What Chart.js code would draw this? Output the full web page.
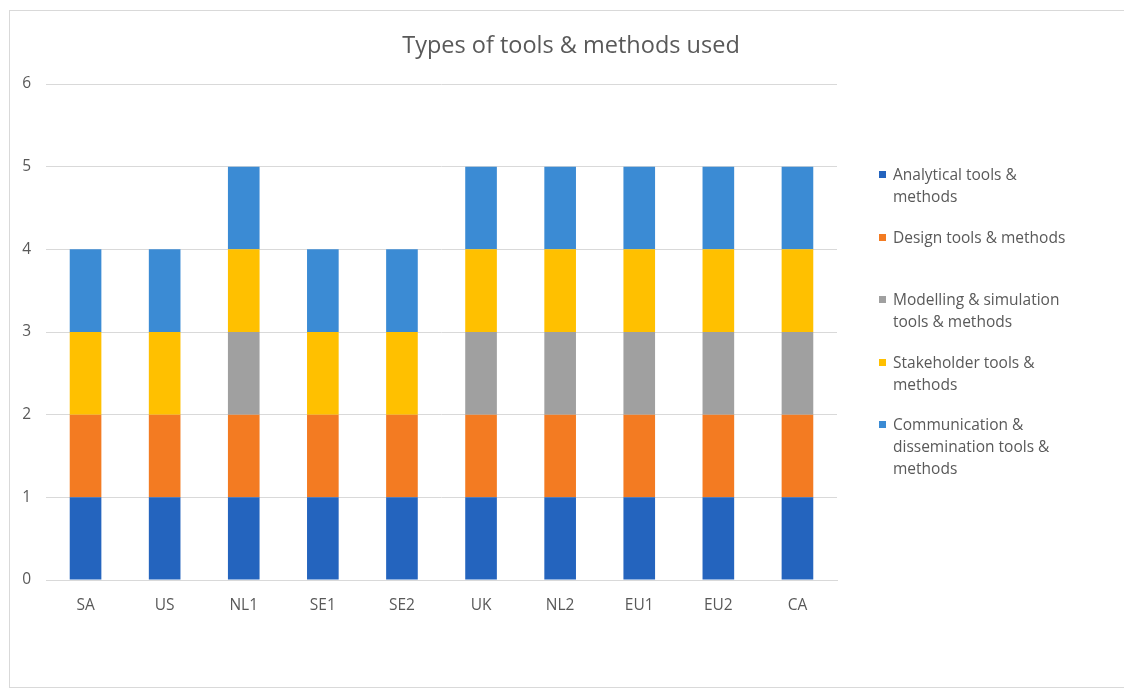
<!DOCTYPE html>
<html>
<head>
<meta charset="utf-8">
<script src="https://cdn.jsdelivr.net/npm/chart.js@4"></script>
<style>
  body { margin: 0; background: #fff; font-family: "Open Sans", sans-serif; }
  #wrap { position: relative; width: 1124px; height: 691px; overflow: hidden; }
  #frame { position: absolute; left: 9px; top: 10px; width: 1130px; height: 678px; border: 1px solid #d9d9d9; box-sizing: border-box; }
  #chart { position: absolute; left: 0; top: 0; }
  #title { position: absolute; left: 371px; width: 400px; top: 28px; text-align: center; font-size: 23.5px; line-height: 32px; color: #595959; }
  #legend { position: absolute; left: 879px; top: 0; width: 220px; }
  .item { position: absolute; left: 0; width: 196px; font-size: 15.5px; line-height: 22px; color: #595959; padding-left: 14px; box-sizing: border-box; }
  .box { position: absolute; left: 0; top: 8px; width: 7px; height: 7px; }
</style>
</head>
<body>
<div id="wrap">
  <div id="frame"></div>
  <canvas id="chart" width="1124" height="691"></canvas>
  <div id="title">Types of tools &amp; methods used</div>
  <div id="legend"></div>
</div>
<script>
const categories = ["SA", "US", "NL1", "SE1", "SE2", "UK", "NL2", "EU1", "EU2", "CA"];
const seriesNames = [
    "Analytical tools & methods",
    "Design tools & methods",
    "Modelling & simulation tools & methods",
    "Stakeholder tools & methods",
    "Communication & dissemination tools & methods"
];
const analytical = [1, 1, 1, 1, 1, 1, 1, 1, 1, 1];
const design = [1, 1, 1, 1, 1, 1, 1, 1, 1, 1];
const modelling = [0, 0, 1, 0, 0, 1, 1, 1, 1, 1];
const stakeholder = [1, 1, 1, 1, 1, 1, 1, 1, 1, 1];
const communication = [1, 1, 1, 1, 1, 1, 1, 1, 1, 1];
const yTicks = [0, 1, 2, 3, 4, 5, 6];
const colors = ["#2464be", "#f37b22", "#a0a0a0", "#ffc000", "#3b8bd4"];

const seriesValues = [analytical, design, modelling, stakeholder, communication];
const datasets = seriesNames.map((name, i) => ({
    label: name,
    data: seriesValues[i],
    backgroundColor: colors[i],
    borderWidth: 0
}));

const chart = new Chart(document.getElementById("chart"), {
    type: 'bar',
    data: { labels: categories, datasets: datasets },
    options: {
        responsive: false,
        animation: false,
        categoryPercentage: 1,
        barPercentage: 0.4,
        layout: { padding: { left: 10, right: 287, top: 84, bottom: 71 } },
        plugins: {
            legend: { display: false },
            tooltip: { enabled: false },
            title: { display: false }
        },
        scales: {
            x: {
                stacked: true,
                grid: { display: false },
                border: { display: true, color: '#d9d9d9', width: 1 },
                ticks: { color: '#595959', font: { family: 'Open Sans', size: 15.5 }, padding: 8 },
                afterFit: s => { s.height = 40; }
            },
            y: {
                stacked: true,
                min: 0,
                max: 6,
                afterBuildTicks: s => { s.ticks = yTicks.map(v => ({ value: v })); },
                grid: { color: '#d9d9d9', drawTicks: false },
                border: { display: false },
                ticks: { color: '#595959', font: { family: 'Open Sans', size: 15.5 }, padding: 15 },
                afterFit: s => { s.width = 36; }
            }
        }
    }
});

// legend built from the datasets
const legend = document.getElementById("legend");
chart.data.datasets.forEach((ds, i) => {
    const item = document.createElement("div");
    item.className = "item";
    item.style.top = (163 + i * 62.5) + "px";
    item.innerHTML = `<span class="box" style="background:${ds.backgroundColor}"></span>${ds.label.replace(/&/g, '&amp;')}`;
    legend.appendChild(item);
});
</script>
</body>
</html>
